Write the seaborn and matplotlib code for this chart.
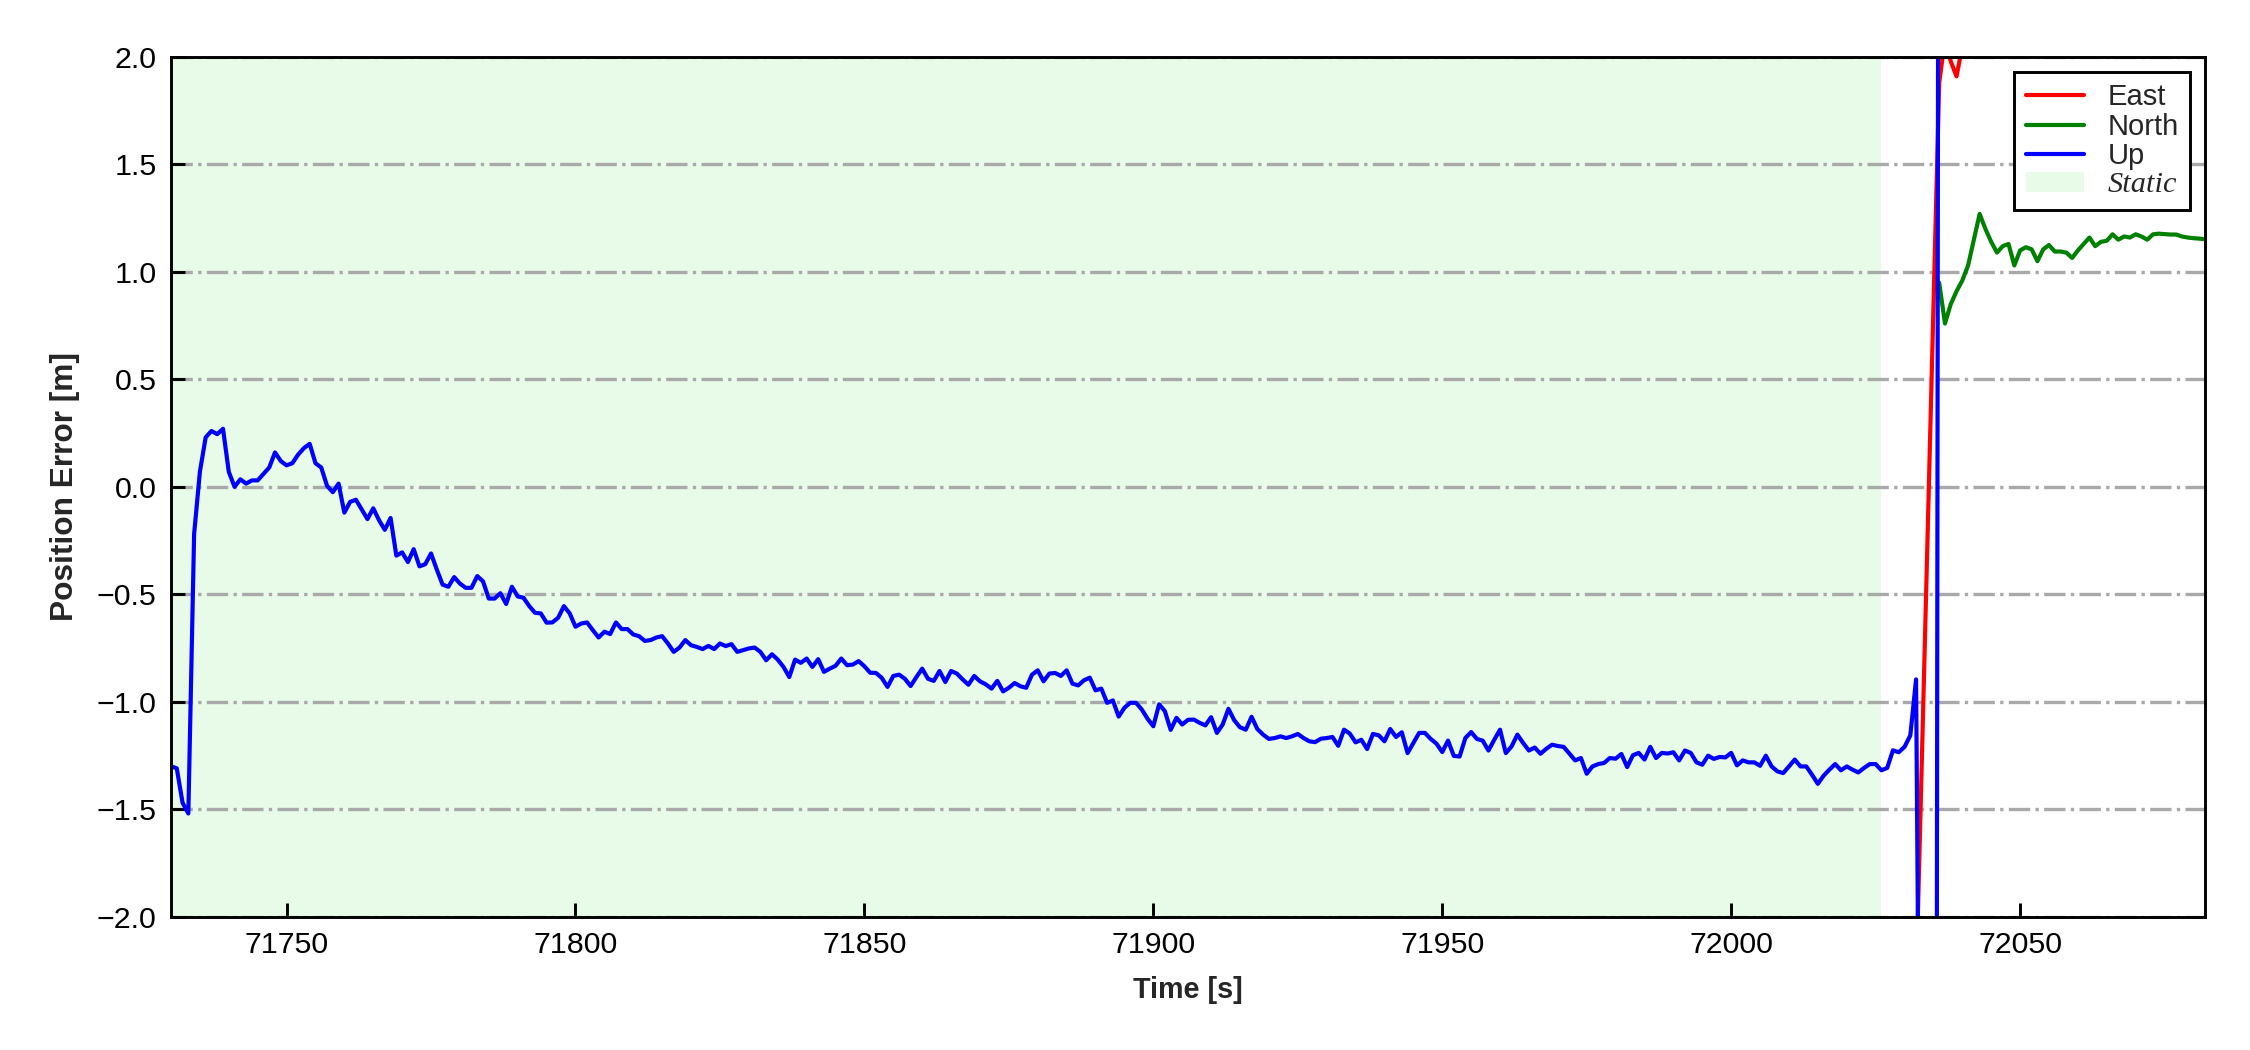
import numpy as np
import matplotlib
matplotlib.use('Agg')
import matplotlib.pyplot as plt
import seaborn as sns

# Up error sampled every second from 71730 s
up_start = 71730
up_vals = [
    -1.30, -1.31, -1.47, -1.52, -0.22, 0.07, 0.23, 0.26, 0.245, 0.27,
    0.07, 0.00, 0.035, 0.015, 0.03, 0.03, 0.06, 0.09, 0.16, 0.12,
    0.10, 0.11, 0.15, 0.18, 0.20, 0.11, 0.09, 0.005, -0.025, 0.015,
    -0.12, -0.07, -0.06, -0.105, -0.15, -0.10, -0.155, -0.20, -0.145, -0.32,
    -0.305, -0.35, -0.29, -0.37, -0.36, -0.31, -0.385, -0.455, -0.465, -0.42,
    -0.45, -0.47, -0.47, -0.415, -0.44, -0.52, -0.52, -0.495, -0.545, -0.465,
    -0.51, -0.516, -0.555, -0.586, -0.589, -0.632, -0.631, -0.609, -0.555, -0.589,
    -0.651, -0.636, -0.631, -0.667, -0.701, -0.674, -0.685, -0.631, -0.662, -0.662,
    -0.687, -0.695, -0.717, -0.713, -0.701, -0.695, -0.729, -0.768, -0.748, -0.713,
    -0.737, -0.745, -0.755, -0.74, -0.755, -0.729, -0.741, -0.732, -0.768, -0.76,
    -0.752, -0.748, -0.768, -0.807, -0.779, -0.804, -0.838, -0.885, -0.804, -0.819,
    -0.799, -0.838, -0.802, -0.861, -0.846, -0.833, -0.799, -0.830, -0.827, -0.811,
    -0.835, -0.865, -0.866, -0.889, -0.931, -0.880, -0.874, -0.893, -0.927, -0.885,
    -0.846, -0.893, -0.903, -0.857, -0.908, -0.857, -0.869, -0.896, -0.921, -0.880,
    -0.905, -0.919, -0.939, -0.903, -0.952, -0.935, -0.913, -0.928, -0.935, -0.874,
    -0.854, -0.905, -0.869, -0.866, -0.880, -0.854, -0.916, -0.924, -0.900, -0.888,
    -0.947, -0.939, -1.005, -0.994, -1.069, -1.028, -1.005, -1.005, -1.036, -1.079,
    -1.114, -1.012, -1.044, -1.131, -1.075, -1.106, -1.084, -1.083, -1.098, -1.11,
    -1.072, -1.145, -1.106, -1.033, -1.086, -1.119, -1.130, -1.070, -1.127, -1.153,
    -1.173, -1.169, -1.161, -1.169, -1.161, -1.150, -1.169, -1.184, -1.188, -1.172,
    -1.169, -1.164, -1.205, -1.130, -1.148, -1.189, -1.177, -1.220, -1.150, -1.156,
    -1.184, -1.127, -1.164, -1.142, -1.239, -1.192, -1.145, -1.145, -1.173, -1.195,
    -1.234, -1.181, -1.252, -1.255, -1.169, -1.141, -1.173, -1.181, -1.227, -1.177,
    -1.130, -1.239, -1.208, -1.153, -1.192, -1.227, -1.213, -1.242, -1.219, -1.200,
    -1.206, -1.210, -1.241, -1.273, -1.262, -1.335, -1.301, -1.290, -1.285, -1.262,
    -1.265, -1.243, -1.304, -1.249, -1.238, -1.269, -1.210, -1.262, -1.238, -1.241,
    -1.235, -1.273, -1.227, -1.238, -1.282, -1.293, -1.251, -1.266, -1.257, -1.259,
    -1.238, -1.296, -1.273, -1.282, -1.282, -1.298, -1.251, -1.301, -1.324, -1.332,
    -1.301, -1.269, -1.301, -1.301, -1.340, -1.382, -1.344, -1.316, -1.290, -1.319,
    -1.301, -1.316, -1.329, -1.308, -1.290, -1.290, -1.319, -1.308, -1.226, -1.235,
    -1.210, -1.157, -0.896, -4.5, -9.0, -14.0, 6.0,
]

# East error, from 72032 s (mostly off-scale)
east_start = 72032
east_vals = [-2.32, -1.27, -0.22, 0.83, 1.88, 2.08, 1.98, 1.91, 2.05, 2.4]

# North error, from 72036 s
north_start = 72036
north_vals = [
    0.95, 0.76, 0.85, 0.91, 0.96, 1.03, 1.15, 1.27, 1.20, 1.14,
    1.09, 1.12, 1.13, 1.03, 1.10, 1.115, 1.105, 1.05, 1.105, 1.125,
    1.095, 1.095, 1.09, 1.065, 1.10, 1.13, 1.16, 1.12, 1.14, 1.145,
    1.175, 1.15, 1.165, 1.16, 1.175, 1.165, 1.15, 1.175, 1.178, 1.176,
    1.174, 1.174, 1.165, 1.16, 1.157, 1.155, 1.152,
]

static_span = (71730, 72026)
x_limits = (71730, 72082)
y_limits = (-2.0, 2.0)
x_ticks = [71750, 71800, 71850, 71900, 71950, 72000, 72050]
y_ticks = [-2.0, -1.5, -1.0, -0.5, 0.0, 0.5, 1.0, 1.5, 2.0]

sns.set_style("ticks")
plt.rcParams['font.family'] = ['Liberation Sans', 'DejaVu Sans']
plt.rcParams['axes.linewidth'] = 0.7

t_up = up_start + np.arange(len(up_vals))
t_east = east_start + np.arange(len(east_vals))
t_north = north_start + np.arange(len(north_vals))

fig, ax = plt.subplots(figsize=(7.5, 3.5), dpi=300)
fig.subplots_adjust(left=0.076, right=0.98, bottom=0.127, top=0.9457)

span = ax.axvspan(*static_span, color='lightgreen', alpha=0.2, lw=0, zorder=0, label='Static')

sns.lineplot(x=t_east, y=east_vals, color='r', linewidth=1.0, ax=ax, label='East', sort=False)
sns.lineplot(x=t_north, y=north_vals, color='g', linewidth=1.0, ax=ax, label='North', sort=False)
sns.lineplot(x=t_up, y=up_vals, color='b', linewidth=1.0, ax=ax, label='Up', sort=False)

ax.set_xlim(*x_limits)
ax.set_ylim(*y_limits)
ax.set_xticks(x_ticks)
ax.set_yticks(y_ticks)
ax.set_yticklabels([f"{v:.1f}".replace('-', '\u2212') for v in y_ticks])

ax.set_axisbelow(True)
ax.yaxis.grid(True, linestyle='-.', color='darkgray', linewidth=0.8)
ax.xaxis.grid(False)

ax.tick_params(axis='both', direction='in', length=3.3, width=0.7,
               labelsize=7.3, colors='black', top=False, right=False)
for s in ax.spines.values():
    s.set_visible(True)
    s.set_color('black')
    s.set_linewidth(0.7)

ax.set_xlabel('Time [s]', fontsize=6.9, fontweight='bold')
ax.set_ylabel('Position Error [m]', fontsize=7.6, fontweight='bold')

handles, labels = ax.get_legend_handles_labels()
order = ['East', 'North', 'Up', 'Static']
lookup = dict(zip(labels, handles))
leg = ax.legend([lookup[k] for k in order], order, loc='upper right', fontsize=7,
                fancybox=False, framealpha=1, edgecolor='black',
                labelspacing=0.05, handlelength=2.0, handletextpad=0.8, borderpad=0.4)
leg.get_frame().set_linewidth(0.7)
static_txt = leg.get_texts()[3]
static_txt.set_fontfamily(['Liberation Serif', 'DejaVu Serif'])
static_txt.set_fontstyle('italic')
static_txt.set_fontsize(7.3)

fig.savefig('out.png', dpi=300)
plt.close(fig)
